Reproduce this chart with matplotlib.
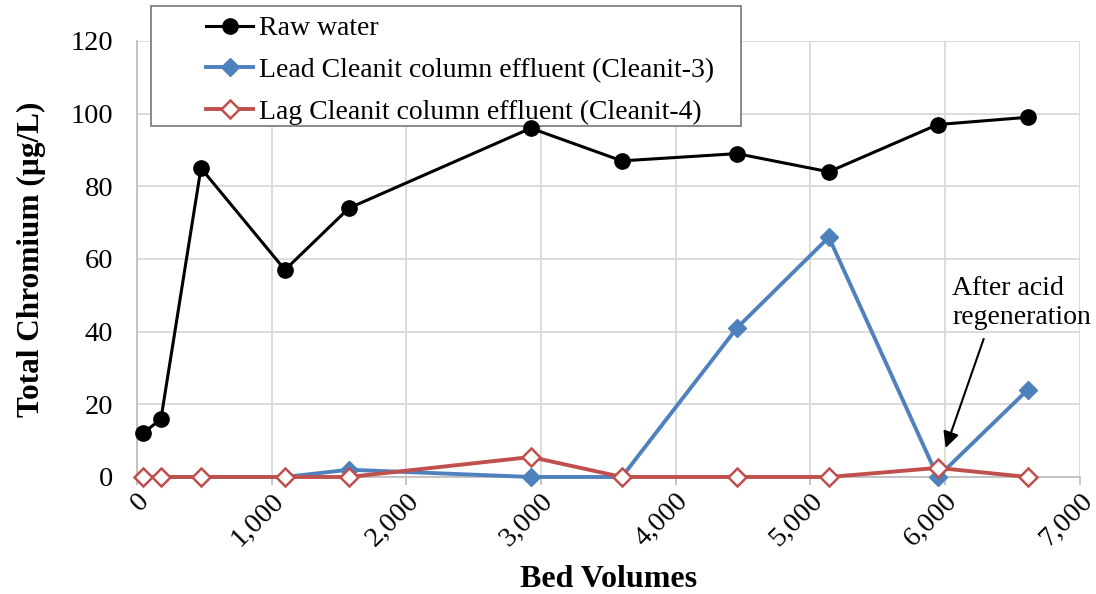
import matplotlib.pyplot as plt
from matplotlib.ticker import FuncFormatter
from matplotlib.patches import Rectangle

bed_volumes = [45, 178, 475, 1099, 1574, 2925, 3601, 4455, 5138, 5947, 6615]
raw_water = [12, 16, 85, 57, 74, 96, 87, 89, 84, 97, 99]
lead_effluent = [0, 0, 0, 0, 2, 0, 0, 41, 66, 0, 24]
lag_effluent = [0, 0, 0, 0, 0, 5.5, 0, 0, 0, 2.5, 0]

plt.rcParams['font.family'] = ['Liberation Serif', 'DejaVu Serif']

fig = plt.figure(figsize=(10.96, 5.94), dpi=100)
ax = fig.add_axes([0.125, 0.197, 0.86, 0.734])

ax.plot(bed_volumes, raw_water, color='black', lw=2.2, marker='o', ms=11,
        label='Raw water', zorder=3, clip_on=False)
ax.plot(bed_volumes, lead_effluent, color='#4F81BD', lw=2.8, marker='D', ms=9,
        label='Lead Cleanit column effluent (Cleanit-3)', zorder=4, clip_on=False)
ax.plot(bed_volumes, lag_effluent, color='#C0504D', lw=2.8, marker='D', ms=9,
        mfc='white', mew=1.8, label='Lag Cleanit column effluent (Cleanit-4)',
        zorder=5, clip_on=False)

ax.set_xlim(0, 7000)
ax.set_ylim(0, 120)
ax.set_xticks(range(0, 7001, 1000))
ax.set_yticks(range(0, 121, 20))
ax.xaxis.set_major_formatter(FuncFormatter(lambda v, p: f'{int(v):,}'))
ax.grid(True, color='#D9D9D9', lw=1.3)
ax.set_axisbelow(True)
for s in ['top', 'right']:
    ax.spines[s].set_visible(False)
for s in ['left', 'bottom']:
    ax.spines[s].set_color('#BFBFBF')
    ax.spines[s].set_linewidth(1.3)
ax.tick_params(axis='x', length=6, color='#BFBFBF', width=1.3, labelsize=20.5,
               labelrotation=45, pad=2)
ax.tick_params(axis='y', length=0, labelsize=20.5, pad=17)
for lbl in ax.get_xticklabels():
    lbl.set_ha('right')
    lbl.set_rotation_mode('anchor')

ax.set_xlabel('Bed Volumes', fontsize=23, fontweight='bold', labelpad=10)
ax.set_ylabel('Total Chromium (µg/L)', fontsize=22.5, fontweight='bold', labelpad=18)

# annotation
ax.annotate('', xy=(6006, 8), xytext=(6288, 38),
            arrowprops=dict(arrowstyle='-|>', color='black', lw=1.5,
                            mutation_scale=24, shrinkA=0, shrinkB=0))
ax.text(6055, 55.2, 'After acid\nregeneration', fontsize=20, ha='left', va='top',
        linespacing=1.2)

# legend with custom frame, drawn under the data markers
frame = Rectangle((151 / 1096, 1 - 126 / 594), 590 / 1096, 120 / 594,
                  transform=fig.transFigure, fill=True, fc='white',
                  ec='#808080', lw=1.3, zorder=2.4, clip_on=False)
ax.add_patch(frame)
leg = ax.legend(loc='upper left', bbox_to_anchor=(206 / 1096, 1 - 16 / 594),
                bbox_transform=fig.transFigure,
                fontsize=20, frameon=False, handlelength=1.7,
                borderpad=0.0, labelspacing=0.58, handletextpad=0.2,
                borderaxespad=0)
leg.set_zorder(2.5)

fig.savefig('out.png', dpi=100)
